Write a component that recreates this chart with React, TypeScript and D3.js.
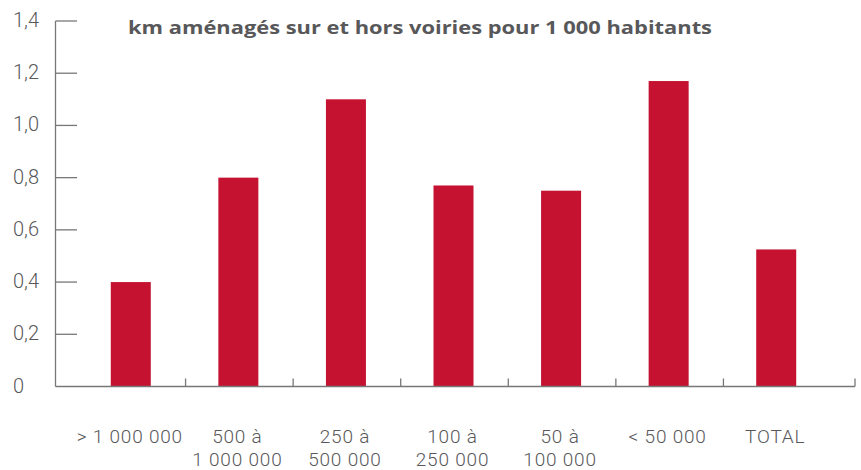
import React, { useEffect, useRef } from 'react';
import * as d3 from 'd3';

// categories (two lines each), values, y tick labels
const categories = ['> 1 000 000', '500 à|1 000 000', '250 à|500 000', '100 à|250 000', '50 à|100 000', '< 50 000', 'TOTAL'];
const values = [0.40, 0.80, 1.10, 0.77, 0.75, 1.17, 0.525];
const yTicks = [0, 0.2, 0.4, 0.6, 0.8, 1.0, 1.2, 1.4];
const title = 'km aménagés sur et hors voiries pour 1 000 habitants';

const width = 861;
const height = 470;
const barColor = '#c41230';
const axisColor = '#777';
const textColor = '#58585a';

export default function App() {
  const ref = useRef<SVGSVGElement>(null);

  useEffect(() => {
    const svg = d3.select(ref.current);
    svg.selectAll('*').remove();

    const axisLeft = 55.5;
    const axisRight = 855;

    const x = d3.scaleBand<string>().domain(categories).range([78, 831]).padding(0);
    const y = d3.scaleLinear().domain([0, 1.4]).range([386.5, 21]);

    // title
    svg.append('text')
      .attr('x', 128)
      .attr('y', 34)
      .attr('fill', textColor)
      .style('font-family', 'Open Sans')
      .style('font-weight', 700)
      .style('font-size', '18.5px')
      .attr('textLength', 584)
      .attr('lengthAdjust', 'spacingAndGlyphs')
      .text(title);

    // bars
    const barW = 40;
    svg.selectAll('rect.bar')
      .data(values)
      .enter()
      .append('rect')
      .attr('class', 'bar')
      .attr('x', (d, i) => x(categories[i])! + x.bandwidth() / 2 - barW / 2 - 1)
      .attr('width', barW)
      .attr('y', d => y(d))
      .attr('height', d => y(0) - y(d))
      .attr('fill', barColor);

    // y axis line and inner ticks
    svg.append('line')
      .attr('x1', axisLeft).attr('x2', axisLeft)
      .attr('y1', y(1.4)).attr('y2', y(0))
      .attr('stroke', axisColor).attr('stroke-width', 1.3);

    svg.selectAll('line.ytick')
      .data(yTicks.filter(t => t > 0))
      .enter()
      .append('line')
      .attr('class', 'ytick')
      .attr('x1', axisLeft).attr('x2', 77)
      .attr('y1', d => y(d)).attr('y2', d => y(d))
      .attr('stroke', axisColor).attr('stroke-width', 1.3);

    svg.selectAll('text.ylab')
      .data(yTicks)
      .enter()
      .append('text')
      .attr('class', 'ylab')
      .attr('x', 13)
      .attr('y', d => y(d))
      .attr('dy', '0.3em')
      .attr('fill', textColor)
      .style('font-family', 'Roboto')
      .style('font-size', '20px')
      .style('font-weight', 300)
      .text(d => d === 0 ? '0' : d3.format('.1f')(d).replace('.', ','));

    // x axis line
    svg.append('line')
      .attr('x1', axisLeft).attr('x2', axisRight)
      .attr('y1', y(0)).attr('y2', y(0))
      .attr('stroke', axisColor).attr('stroke-width', 1.3);

    // category separators
    const seps = categories.slice(1).map(c => x(c)!);
    seps.push(axisRight);
    svg.selectAll('line.xtick')
      .data(seps)
      .enter()
      .append('line')
      .attr('class', 'xtick')
      .attr('x1', d => d).attr('x2', d => d)
      .attr('y1', y(0)).attr('y2', y(0) - 8)
      .attr('stroke', axisColor).attr('stroke-width', 1.3);

    // category labels
    const lab = svg.selectAll('text.xlab')
      .data(categories)
      .enter()
      .append('text')
      .attr('class', 'xlab')
      .attr('text-anchor', 'middle')
      .attr('fill', textColor)
      .style('font-family', 'Roboto')
      .style('font-size', '19px')
      .style('font-weight', 300)
      .style('letter-spacing', '0.8px')
      .attr('transform', d => 'translate(' + (x(d)! + x.bandwidth() / 2 - 2) + ',443)');

    lab.each(function (d) {
      const parts = d.split('|');
      parts.forEach((p, i) => {
        d3.select(this).append('tspan')
          .attr('x', 0)
          .attr('y', i * 22.5)
          .text(p);
      });
    });
  }, []);

  return (
    <svg ref={ref} width={width} height={height}
      style={{ position: 'absolute', left: 0, top: 0, background: '#fff' }} />
  );
}
